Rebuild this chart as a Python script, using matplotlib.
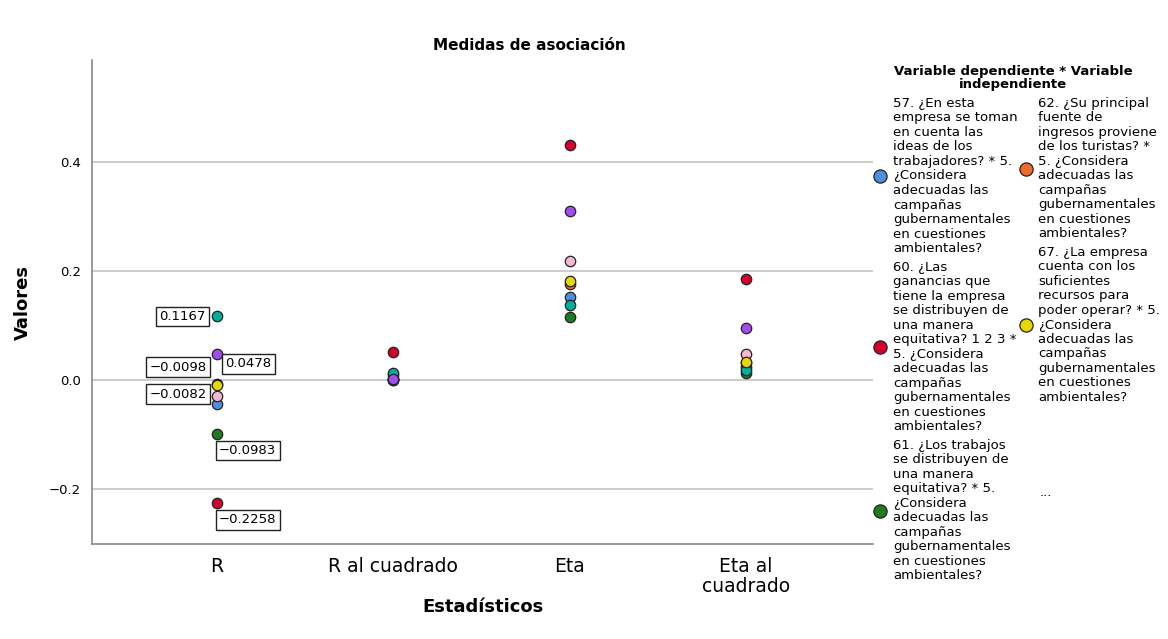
import numpy as np
import matplotlib
matplotlib.use("Agg")
import matplotlib.pyplot as plt
from matplotlib.lines import Line2D

# -------------------
# DATA
# -------------------
STATS = ["R", "R al cuadrado", "Eta", "Eta al\ncuadrado"]

# series order: 57, 60, 61, 62, 67, then the three not shown in the legend
SERIES_COLORS = ["#4a8fe0", "#d4002c", "#1f7a22", "#f06a28", "#e6d800",
                 "#00ad9f", "#a24cf0", "#f7b6d2"]
R_VALS = [-0.044, -0.2258, -0.0983, -0.0082, -0.0098, 0.1167, 0.0478, -0.030]
R2_VALS = [0.0019, 0.0510, 0.0097, 0.0001, 0.0001, 0.0136, 0.0023, 0.0009]
ETA_VALS = [0.152, 0.431, 0.116, 0.176, 0.182, 0.138, 0.310, 0.218]
ETA2_VALS = [0.023, 0.186, 0.0135, 0.031, 0.033, 0.019, 0.096, 0.0475]

# which R points carry a value label (index into series)
LABELLED = [5, 6, 4, 3, 2, 1]

LEGEND_COL1 = [
    "57. ¿En esta\nempresa se toman\nen cuenta las\nideas de los\ntrabajadores? * 5.\n¿Considera\nadecuadas las\ncampañas\ngubernamentales\nen cuestiones\nambientales?",
    "60. ¿Las\nganancias que\ntiene la empresa\nse distribuyen de\nuna manera\nequitativa? 1 2 3 *\n5. ¿Considera\nadecuadas las\ncampañas\ngubernamentales\nen cuestiones\nambientales?",
    "61. ¿Los trabajos\nse distribuyen de\nuna manera\nequitativa? * 5.\n¿Considera\nadecuadas las\ncampañas\ngubernamentales\nen cuestiones\nambientales?",
]
LEGEND_COL2 = [
    "62. ¿Su principal\nfuente de\ningresos proviene\nde los turistas? *\n5. ¿Considera\nadecuadas las\ncampañas\ngubernamentales\nen cuestiones\nambientales?",
    "67. ¿La empresa\ncuenta con los\nsuficientes\nrecursos para\npoder operar? * 5.\n¿Considera\nadecuadas las\ncampañas\ngubernamentales\nen cuestiones\nambientales?",
]
COL1_SERIES = [0, 1, 2]
COL2_SERIES = [3, 4]

# -------------------
# FIGURE
# -------------------
W, H = 1168, 639
fig = plt.figure(figsize=(W / 100, H / 100), dpi=100)
ax = fig.add_axes([92 / W, 1 - 544 / H, (873 - 92) / W, (544 - 60) / H])

values = np.array([R_VALS, R2_VALS, ETA_VALS, ETA2_VALS])  # stat x series
draw_order = [0, 3, 1, 2, 7, 5, 4, 6]
for z, s in enumerate(draw_order):
    ax.plot(np.arange(len(STATS)), values[:, s], linestyle="none", marker="o",
            markersize=7.5, markerfacecolor=SERIES_COLORS[s],
            markeredgecolor="#222222", markeredgewidth=0.9, zorder=3 + z)

# value labels on R
offsets = {5: ((-8, 0), "right", "center"),
           6: ((6, -2.5), "left", "top"),
           4: ((-7.5, 13), "right", "center"),
           3: ((-7.5, -7), "right", "center"),
           2: ((1.5, -7.5), "left", "top"),
           1: ((1.5, -7.5), "left", "top")}
for s in LABELLED:
    (dx, dy), ha, va = offsets[s]
    ax.annotate(f"{R_VALS[s]:.4f}".replace("-", "\u2212"), xy=(0, R_VALS[s]),
                xytext=(dx, dy), textcoords="offset points", ha=ha, va=va,
                fontsize=9.5, zorder=20,
                bbox=dict(boxstyle="square,pad=0.25", fc="white", ec="#222222", lw=1))

ax.set_xlim(-0.709, 3.72)
ax.set_ylim(-0.301, 0.587)
ax.set_yticks([-0.2, 0.0, 0.2, 0.4])
ax.set_yticklabels(["\u22120.2", "0.0", "0.2", "0.4"], fontsize=9.5)
ax.set_xticks(range(len(STATS)))
ax.set_xticklabels(STATS, fontsize=13.5, linespacing=1.12)
ax.tick_params(axis="both", length=0)
ax.tick_params(axis="y", pad=8)
ax.tick_params(axis="x", pad=9)
ax.grid(axis="y", color="#c8c8c8", linewidth=1.3)
ax.set_axisbelow(True)
for side in ["top", "right"]:
    ax.spines[side].set_visible(False)
for side in ["left", "bottom"]:
    ax.spines[side].set_color("#8a8a8a")
    ax.spines[side].set_linewidth(1.2)

ax.set_ylabel("Valores", fontsize=13, fontweight="bold", labelpad=12)
ax.set_xlabel("Estadísticos", fontsize=13, fontweight="bold", labelpad=1)
fig.text(529 / W, 1 - 45 / H, "Medidas de asociación", ha="center", va="center",
         fontsize=11, fontweight="bold")

# -------------------
# LEGEND (drawn by hand)
# -------------------
fig.text(1013 / W, 1 - 78 / H, "Variable dependiente * Variable\nindependiente",
         ha="center", va="center", fontsize=9.5, fontweight="bold", linespacing=0.95)

LINE_H = 14.6
GAP = 3


def legend_column(labels, series, x_mark, x_text, y_start):
    y = y_start
    for lab, s in zip(labels, series):
        n = lab.count("\n") + 1
        yc = y + (n - 1) * LINE_H / 2
        fig.text(x_text / W, 1 - yc / H, lab, ha="left", va="center",
                 fontsize=9.5, linespacing=1.15)
        fig.add_artist(Line2D([x_mark / W], [1 - yc / H], marker="o", markersize=9.5,
                              markerfacecolor=SERIES_COLORS[s], markeredgecolor="#222222",
                              markeredgewidth=0.9, transform=fig.transFigure))
        y += n * LINE_H + GAP


legend_column(LEGEND_COL1, COL1_SERIES, 880, 893, 103)
legend_column(LEGEND_COL2, COL2_SERIES, 1026, 1038, 103)
fig.text(1040 / W, 1 - 492 / H, "...", ha="left", va="center", fontsize=9.5)

fig.savefig("out.png", dpi=100, facecolor="white")
